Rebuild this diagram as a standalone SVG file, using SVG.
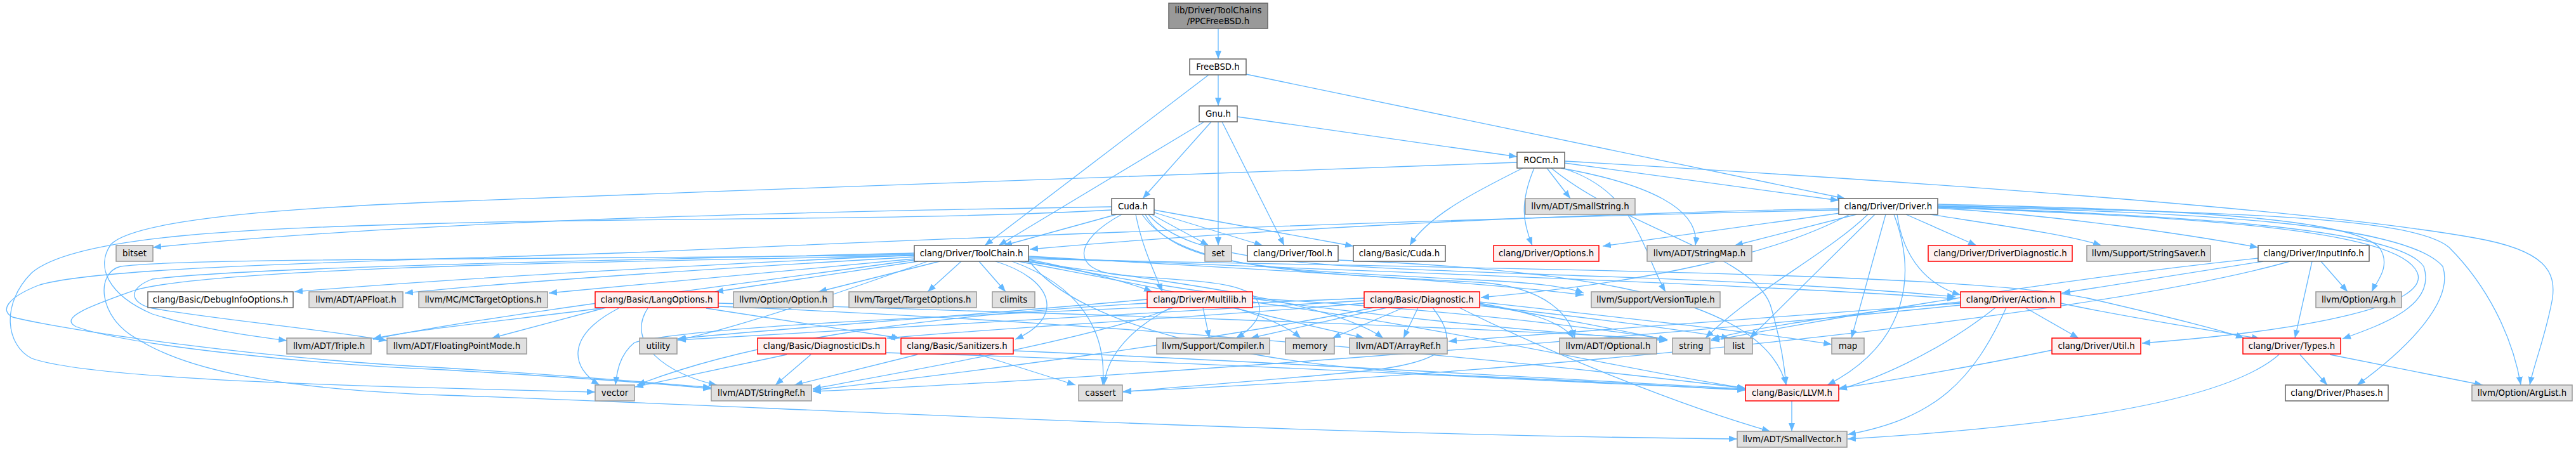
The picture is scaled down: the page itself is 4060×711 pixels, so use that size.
<svg xmlns="http://www.w3.org/2000/svg" width="4060" height="711" viewBox="0 0 4060 711">
<style>
.e{fill:none;stroke:#63b8ff;stroke-width:1.3}
.g rect{fill:#e0e0e0;stroke:#999999;stroke-width:1.5}
.w rect{fill:#ffffff;stroke:#666666;stroke-width:1.5}
.r rect{fill:#fff0f0;stroke:#ff0000;stroke-width:1.5}
.k rect{fill:#999999;stroke:#666666;stroke-width:1.5}
text{font-family:"DejaVu Sans",Verdana,sans-serif;font-size:13.33px;fill:#000;text-anchor:middle}
</style>
<defs>
<marker id="a" markerUnits="userSpaceOnUse" markerWidth="14" markerHeight="10" refX="13" refY="5" orient="auto"><path d="M0,0L13,5L0,10z" fill="#63b8ff"/></marker>
</defs>
<rect width="4060" height="711" fill="#ffffff"/>
<g id="edges">
<path class="e" marker-end="url(#a)" d="M1920,45 L1920,93"/>
<path class="e" marker-end="url(#a)" d="M1920,118 L1920,167"/>
<path class="e" marker-end="url(#a)" d="M1905,118 L1552,387"/>
<path class="e" marker-end="url(#a)" d="M1964,117 L2908,313"/>
<path class="e" marker-end="url(#a)" d="M1950,184 L2391,247"/>
<path class="e" marker-end="url(#a)" d="M1909,192 L1801,313"/>
<path class="e" marker-end="url(#a)" d="M1898,192 L1574,387"/>
<path class="e" marker-end="url(#a)" d="M1920,192 L1920,387"/>
<path class="e" marker-end="url(#a)" d="M1926,192 L2024,387"/>
<path class="e" marker-end="url(#a)" d="M2400,265 C2330,300 2250,340 2222,387"/>
<path class="e" marker-end="url(#a)" d="M2418,265 C2395,320 2400,350 2415,387"/>
<path class="e" marker-end="url(#a)" d="M2438,265 L2475,313"/>
<path class="e" marker-end="url(#a)" d="M2460,265 C2600,290 2680,330 2672,387"/>
<path class="e" marker-end="url(#a)" d="M2466,257 L2898,316"/>
<path class="e" marker-end="url(#a)" d="M2466,254 C3000,285 3650,330 3900,375 C4015,395 4028,430 4023,470 C4012,530 3995,570 3987,607"/>
<path class="e" marker-end="url(#a)" d="M2391,256 C2000,270 1300,295 700,318 C400,330 210,350 175,385 C150,420 170,465 240,495 C320,520 400,530 452,537"/>
<path class="e" marker-end="url(#a)" d="M2462,265 C2580,300 2590,400 2625,460"/>
<path class="e" marker-end="url(#a)" d="M2445,265 C2560,360 2760,400 2790,480 C2805,530 2812,570 2815,607"/>
<path class="e" marker-end="url(#a)" d="M1760,338 L1582,387"/>
<path class="e" marker-end="url(#a)" d="M1815,338 L1905,387"/>
<path class="e" marker-end="url(#a)" d="M1819,335 L1990,387"/>
<path class="e" marker-end="url(#a)" d="M1819,331 L2133,388"/>
<path class="e" marker-end="url(#a)" d="M1752,326 C1300,333 700,345 241,390"/>
<path class="e" marker-end="url(#a)" d="M1752,331 C1450,348 1000,343 700,352 C400,360 120,370 50,430 C0,480 10,545 50,565 C150,600 600,610 938,618"/>
<path class="e" marker-end="url(#a)" d="M1790,338 C1800,390 1820,430 1832,460"/>
<path class="e" marker-end="url(#a)" d="M1768,338 C1690,380 1690,425 1760,433 C1880,445 1990,440 1985,490 C1982,510 1962,525 1948,533"/>
<path class="e" marker-end="url(#a)" d="M1800,338 C1860,425 2050,430 2330,445 C2440,452 2475,500 2482,533"/>
<path class="e" marker-end="url(#a)" d="M1805,338 C1850,420 2000,425 2300,440 C2420,445 2470,452 2496,462"/>
<path class="e" marker-end="url(#a)" d="M1810,338 C1880,420 2100,420 2500,435 C2800,445 3000,460 3082,468"/>
<path class="e" marker-end="url(#a)" d="M1621,404 C1900,420 2300,440 2496,465"/>
<path class="e" marker-end="url(#a)" d="M1621,406 C2100,425 2800,450 3082,471"/>
<path class="e" marker-end="url(#a)" d="M1621,408 C2400,425 3100,430 3290,470 C3420,500 3500,520 3537,533"/>
<path class="e" marker-end="url(#a)" d="M1621,410 C1700,520 2000,580 2300,592 C2500,600 2650,610 2751,615"/>
<path class="e" marker-end="url(#a)" d="M1621,411 C1900,470 2300,515 2628,537"/>
<path class="e" marker-end="url(#a)" d="M1605,412 C1800,450 1990,480 2050,533"/>
<path class="e" marker-end="url(#a)" d="M1615,412 C1850,445 2100,475 2180,533"/>
<path class="e" marker-end="url(#a)" d="M1595,412 C1700,450 1745,520 1738,607"/>
<path class="e" marker-end="url(#a)" d="M1462,412 C1300,470 1150,520 1068,536"/>
<path class="e" marker-end="url(#a)" d="M1569,412 C1660,440 1680,500 1600,535"/>
<path class="e" marker-end="url(#a)" d="M1621,409 C1700,425 1780,445 1816,460"/>
<path class="e" marker-end="url(#a)" d="M1441,402 C1100,418 700,440 464,460"/>
<path class="e" marker-end="url(#a)" d="M1441,405 C1100,425 800,445 638,462"/>
<path class="e" marker-end="url(#a)" d="M1441,408 L865,462"/>
<path class="e" marker-end="url(#a)" d="M1447,412 L1127,460"/>
<path class="e" marker-end="url(#a)" d="M1481,412 L1290,460"/>
<path class="e" marker-end="url(#a)" d="M1515,412 L1462,460"/>
<path class="e" marker-end="url(#a)" d="M1543,412 L1585,460"/>
<path class="e" marker-end="url(#a)" d="M1441,410 C1150,450 750,500 588,535"/>
<path class="e" marker-end="url(#a)" d="M1441,399 C1000,410 400,420 240,440 C200,455 205,478 240,486 C350,505 520,520 610,537"/>
<path class="e" marker-end="url(#a)" d="M1441,401 C1000,410 300,405 190,420 C150,430 155,500 214,533 C280,575 400,612 700,623 C1200,640 2000,685 2738,692"/>
<path class="e" marker-end="url(#a)" d="M1441,403 C1000,412 350,420 214,457 C150,480 90,500 120,515 C200,545 500,575 700,583 C900,595 1050,605 1121,613"/>
<path class="e" marker-end="url(#a)" d="M2898,331 C2400,342 1800,362 1000,398 C600,412 150,420 60,450 C10,470 0,490 20,500 C100,520 400,565 700,580 C900,592 1050,605 1121,611"/>
<path class="e" marker-end="url(#a)" d="M2915,338 C2800,400 2600,445 2334,469"/>
<path class="e" marker-end="url(#a)" d="M2898,329 C2400,338 1900,368 1623,393"/>
<path class="e" marker-end="url(#a)" d="M2900,336 L2526,388"/>
<path class="e" marker-end="url(#a)" d="M2926,338 L2734,387"/>
<path class="e" marker-end="url(#a)" d="M2944,338 C2880,400 2760,460 2688,533"/>
<path class="e" marker-end="url(#a)" d="M2955,338 L2758,533"/>
<path class="e" marker-end="url(#a)" d="M2972,338 L2918,533"/>
<path class="e" marker-end="url(#a)" d="M2985,338 C3020,430 3010,540 2880,607"/>
<path class="e" marker-end="url(#a)" d="M3004,338 L3115,387"/>
<path class="e" marker-end="url(#a)" d="M2990,338 C3000,410 3040,450 3090,465"/>
<path class="e" marker-end="url(#a)" d="M3042,338 C3150,355 3260,370 3312,387"/>
<path class="e" marker-end="url(#a)" d="M3054,328 C3250,340 3450,370 3559,390"/>
<path class="e" marker-end="url(#a)" d="M3054,322 C3400,330 3700,340 3750,390 C3770,420 3745,445 3738,460"/>
<path class="e" marker-end="url(#a)" d="M3054,324 C3500,335 3800,340 3860,390 C3920,450 3960,530 3973,607"/>
<path class="e" marker-end="url(#a)" d="M3054,325 C3450,335 3790,350 3850,420 C3870,480 3780,560 3715,607"/>
<path class="e" marker-end="url(#a)" d="M3054,326 C3450,340 3780,360 3820,420 C3840,480 3760,510 3692,534"/>
<path class="e" marker-end="url(#a)" d="M3054,327 C3450,342 3780,360 3810,430 C3830,480 3650,520 3376,541"/>
<path class="e" marker-end="url(#a)" d="M3567,412 L3250,462"/>
<path class="e" marker-end="url(#a)" d="M3644,412 L3617,533"/>
<path class="e" marker-end="url(#a)" d="M3658,412 L3700,460"/>
<path class="e" marker-end="url(#a)" d="M3559,407 C3200,445 2900,500 2697,537"/>
<path class="e" marker-end="url(#a)" d="M3609,412 C3300,500 2400,590 1770,617"/>
<path class="e" marker-end="url(#a)" d="M3145,485 C3050,560 2950,600 2898,614"/>
<path class="e" marker-end="url(#a)" d="M3162,485 C3110,600 3050,660 2912,685"/>
<path class="e" marker-end="url(#a)" d="M3248,478 C3350,500 3480,520 3562,534"/>
<path class="e" marker-end="url(#a)" d="M3192,485 L3276,533"/>
<path class="e" marker-end="url(#a)" d="M3090,478 C2800,500 2500,520 2283,538"/>
<path class="e" marker-end="url(#a)" d="M3090,481 C2500,540 1700,600 1281,617"/>
<path class="e" marker-end="url(#a)" d="M3090,476 C2900,495 2750,520 2697,535"/>
<path class="e" marker-end="url(#a)" d="M3234,552 C3100,580 2950,605 2898,612"/>
<path class="e" marker-end="url(#a)" d="M3625,559 L3668,607"/>
<path class="e" marker-end="url(#a)" d="M3672,559 L3913,607"/>
<path class="e" marker-end="url(#a)" d="M3592,559 C3500,640 3200,675 2912,692"/>
<path class="e" marker-end="url(#a)" d="M2824,632 L2824,680"/>
<path class="e" marker-end="url(#a)" d="M2150,478 C1900,500 1600,515 1398,533"/>
<path class="e" marker-end="url(#a)" d="M2186,485 L1971,533"/>
<path class="e" marker-end="url(#a)" d="M2212,485 L2100,533"/>
<path class="e" marker-end="url(#a)" d="M2235,485 L2212,533"/>
<path class="e" marker-end="url(#a)" d="M2258,485 C2300,540 2290,570 2150,585 C2000,600 1850,610 1770,618"/>
<path class="e" marker-end="url(#a)" d="M2150,470 C1700,490 1100,510 1000,540 C975,560 972,590 970,607"/>
<path class="e" marker-end="url(#a)" d="M2150,474 C1700,500 1300,520 1068,536"/>
<path class="e" marker-end="url(#a)" d="M2165,485 C1900,540 1500,590 1281,615"/>
<path class="e" marker-end="url(#a)" d="M2332,478 C2400,490 2460,505 2480,533"/>
<path class="e" marker-end="url(#a)" d="M2332,480 C2450,500 2550,520 2628,536"/>
<path class="e" marker-end="url(#a)" d="M2332,482 C2500,500 2650,520 2726,533"/>
<path class="e" marker-end="url(#a)" d="M2332,476 C2550,500 2780,525 2887,543"/>
<path class="e" marker-end="url(#a)" d="M2300,485 C2450,560 2650,640 2790,680"/>
<path class="e" marker-end="url(#a)" d="M1896,485 L1906,533"/>
<path class="e" marker-end="url(#a)" d="M1942,485 L2150,533"/>
<path class="e" marker-end="url(#a)" d="M1845,485 C1780,520 1745,560 1740,607"/>
<path class="e" marker-end="url(#a)" d="M1974,476 C2300,520 2600,590 2751,612"/>
<path class="e" marker-end="url(#a)" d="M1974,470 C2300,490 2500,515 2628,535"/>
<path class="e" marker-end="url(#a)" d="M1808,478 C1500,495 1200,530 1004,607"/>
<path class="e" marker-end="url(#a)" d="M1808,472 C1500,500 1200,520 1068,534"/>
<path class="e" marker-end="url(#a)" d="M1850,485 C1700,540 1400,590 1281,613"/>
<path class="e" marker-end="url(#a)" d="M955,485 L775,533"/>
<path class="e" marker-end="url(#a)" d="M975,486 C890,530 900,580 945,607"/>
<path class="e" marker-end="url(#a)" d="M1021,486 C985,540 1050,590 1130,607"/>
<path class="e" marker-end="url(#a)" d="M947,486 C800,505 650,520 588,534"/>
<path class="e" marker-end="url(#a)" d="M1113,486 L1418,533"/>
<path class="e" marker-end="url(#a)" d="M1132,478 C1700,495 2200,510 2628,535"/>
<path class="e" marker-end="url(#a)" d="M1132,483 C1800,510 2400,570 2751,612"/>
<path class="e" marker-end="url(#a)" d="M1240,559 L1001,610"/>
<path class="e" marker-end="url(#a)" d="M1278,559 L1222,607"/>
<path class="e" marker-end="url(#a)" d="M1396,556 C1900,570 2400,600 2751,614"/>
<path class="e" marker-end="url(#a)" d="M1446,559 L1252,607"/>
<path class="e" marker-end="url(#a)" d="M1543,559 L1695,607"/>
<path class="e" marker-end="url(#a)" d="M1597,553 C2000,570 2500,600 2751,613"/>
<path class="e" marker-end="url(#a)" d="M2109,410 C2500,425 2780,470 2815,607"/>
</g>
<g id="n_root" class="k"><rect x="1842" y="5" width="156" height="40"/><text x="1920" y="21">lib/Driver/ToolChains</text><text x="1920" y="38">/PPCFreeBSD.h</text></g>
<g id="n_freebsd" class="w"><rect x="1875" y="93" width="89" height="25"/><text x="1919.5" y="110">FreeBSD.h</text></g>
<g id="n_gnu" class="w"><rect x="1890" y="167" width="60" height="25"/><text x="1920" y="184">Gnu.h</text></g>
<g id="n_rocm" class="w"><rect x="2391" y="240" width="75" height="25"/><text x="2428.5" y="257">ROCm.h</text></g>
<g id="n_cuda" class="w"><rect x="1752" y="313" width="67" height="25"/><text x="1785.5" y="330">Cuda.h</text></g>
<g id="n_smallstring" class="g"><rect x="2404" y="313" width="173" height="25"/><text x="2490.5" y="330">llvm/ADT/SmallString.h</text></g>
<g id="n_driver" class="w"><rect x="2898" y="313" width="156" height="25"/><text x="2976" y="330">clang/Driver/Driver.h</text></g>
<g id="n_bitset" class="g"><rect x="183" y="387" width="58" height="25"/><text x="212" y="404">bitset</text></g>
<g id="n_toolchain" class="w"><rect x="1441" y="387" width="180" height="25"/><text x="1531" y="404">clang/Driver/ToolChain.h</text></g>
<g id="n_set" class="g"><rect x="1899" y="387" width="42" height="25"/><text x="1920" y="404">set</text></g>
<g id="n_tool" class="w"><rect x="1966" y="387" width="143" height="25"/><text x="2037.5" y="404">clang/Driver/Tool.h</text></g>
<g id="n_bcuda" class="w"><rect x="2133" y="387" width="145" height="25"/><text x="2205.5" y="404">clang/Basic/Cuda.h</text></g>
<g id="n_options" class="r"><rect x="2354" y="387" width="166" height="25"/><text x="2437" y="404">clang/Driver/Options.h</text></g>
<g id="n_stringmap" class="g"><rect x="2596" y="387" width="165" height="25"/><text x="2678.5" y="404">llvm/ADT/StringMap.h</text></g>
<g id="n_driverdiag" class="r"><rect x="3039" y="387" width="227" height="25"/><text x="3152.5" y="404">clang/Driver/DriverDiagnostic.h</text></g>
<g id="n_stringsaver" class="g"><rect x="3289" y="387" width="195" height="25"/><text x="3386.5" y="404">llvm/Support/StringSaver.h</text></g>
<g id="n_inputinfo" class="w"><rect x="3559" y="387" width="175" height="25"/><text x="3646.5" y="404">clang/Driver/InputInfo.h</text></g>
<g id="n_debuginfo" class="w"><rect x="233" y="460" width="229" height="25"/><text x="347.5" y="477">clang/Basic/DebugInfoOptions.h</text></g>
<g id="n_apfloat" class="g"><rect x="487" y="460" width="148" height="25"/><text x="561" y="477">llvm/ADT/APFloat.h</text></g>
<g id="n_mctarget" class="g"><rect x="660" y="460" width="203" height="25"/><text x="761.5" y="477">llvm/MC/MCTargetOptions.h</text></g>
<g id="n_langopt" class="r"><rect x="938" y="460" width="194" height="25"/><text x="1035" y="477">clang/Basic/LangOptions.h</text></g>
<g id="n_option" class="g"><rect x="1156" y="460" width="157" height="25"/><text x="1234.5" y="477">llvm/Option/Option.h</text></g>
<g id="n_targetopt" class="g"><rect x="1338" y="460" width="201" height="25"/><text x="1438.5" y="477">llvm/Target/TargetOptions.h</text></g>
<g id="n_climits" class="g"><rect x="1564" y="460" width="67" height="25"/><text x="1597.5" y="477">climits</text></g>
<g id="n_multilib" class="r"><rect x="1808" y="460" width="166" height="25"/><text x="1891" y="477">clang/Driver/Multilib.h</text></g>
<g id="n_diagnostic" class="r"><rect x="2150" y="460" width="182" height="25"/><text x="2241" y="477">clang/Basic/Diagnostic.h</text></g>
<g id="n_versiontuple" class="g"><rect x="2508" y="460" width="203" height="25"/><text x="2609.5" y="477">llvm/Support/VersionTuple.h</text></g>
<g id="n_action" class="r"><rect x="3090" y="460" width="158" height="25"/><text x="3169" y="477">clang/Driver/Action.h</text></g>
<g id="n_arg" class="g"><rect x="3650" y="460" width="135" height="25"/><text x="3717.5" y="477">llvm/Option/Arg.h</text></g>
<g id="n_triple" class="g"><rect x="452" y="533" width="133" height="25"/><text x="518.5" y="550">llvm/ADT/Triple.h</text></g>
<g id="n_fpmode" class="g"><rect x="610" y="533" width="220" height="25"/><text x="720" y="550">llvm/ADT/FloatingPointMode.h</text></g>
<g id="n_utility" class="g"><rect x="1008" y="533" width="59" height="25"/><text x="1037.5" y="550">utility</text></g>
<g id="n_diagids" class="r"><rect x="1194" y="533" width="202" height="25"/><text x="1295" y="550">clang/Basic/DiagnosticIDs.h</text></g>
<g id="n_sanitizers" class="r"><rect x="1420" y="533" width="177" height="25"/><text x="1508.5" y="550">clang/Basic/Sanitizers.h</text></g>
<g id="n_compiler" class="g"><rect x="1823" y="533" width="178" height="25"/><text x="1912" y="550">llvm/Support/Compiler.h</text></g>
<g id="n_memory" class="g"><rect x="2026" y="533" width="77" height="25"/><text x="2064.5" y="550">memory</text></g>
<g id="n_arrayref" class="g"><rect x="2127" y="533" width="154" height="25"/><text x="2204" y="550">llvm/ADT/ArrayRef.h</text></g>
<g id="n_optional" class="g"><rect x="2458" y="533" width="153" height="25"/><text x="2534.5" y="550">llvm/ADT/Optional.h</text></g>
<g id="n_string" class="g"><rect x="2636" y="533" width="59" height="25"/><text x="2665.5" y="550">string</text></g>
<g id="n_list" class="g"><rect x="2718" y="533" width="44" height="25"/><text x="2740" y="550">list</text></g>
<g id="n_map" class="g"><rect x="2887" y="533" width="51" height="25"/><text x="2912.5" y="550">map</text></g>
<g id="n_util" class="r"><rect x="3234" y="533" width="140" height="25"/><text x="3304" y="550">clang/Driver/Util.h</text></g>
<g id="n_types" class="r"><rect x="3535" y="533" width="154" height="25"/><text x="3612" y="550">clang/Driver/Types.h</text></g>
<g id="n_vector" class="g"><rect x="938" y="607" width="62" height="25"/><text x="969" y="624">vector</text></g>
<g id="n_stringref" class="g"><rect x="1121" y="607" width="158" height="25"/><text x="1200" y="624">llvm/ADT/StringRef.h</text></g>
<g id="n_cassert" class="g"><rect x="1700" y="607" width="69" height="25"/><text x="1734.5" y="624">cassert</text></g>
<g id="n_llvm" class="r"><rect x="2751" y="607" width="147" height="25"/><text x="2824.5" y="624">clang/Basic/LLVM.h</text></g>
<g id="n_phases" class="w"><rect x="3602" y="607" width="162" height="25"/><text x="3683" y="624">clang/Driver/Phases.h</text></g>
<g id="n_arglist" class="g"><rect x="3896" y="607" width="158" height="25"/><text x="3975" y="624">llvm/Option/ArgList.h</text></g>
<g id="n_smallvector" class="g"><rect x="2738" y="680" width="173" height="25"/><text x="2824.5" y="697">llvm/ADT/SmallVector.h</text></g>
</svg>
